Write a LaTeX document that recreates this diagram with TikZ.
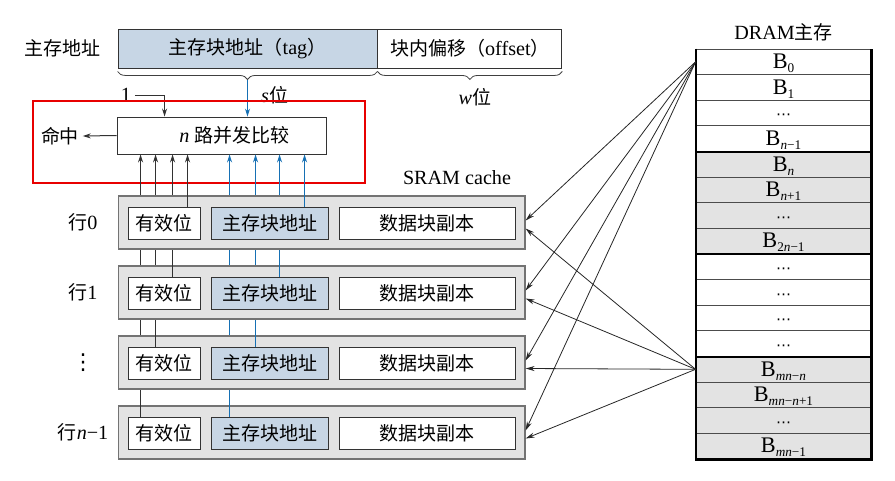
\documentclass[tikz,border=0pt]{standalone}
\usepackage{fontspec}
\setmainfont{Liberation Serif}[Scale=1.06]
\newfontfamily\cjk{Noto Sans CJK SC}
\newfontfamily\symf{DejaVu Sans}
\usetikzlibrary{arrows.meta,decorations.pathreplacing}
\definecolor{tagblue}{RGB}{199,214,229}
\definecolor{cellgray}{RGB}{227,227,227}
\definecolor{wireblue}{RGB}{22,112,180}
\definecolor{wiredark}{RGB}{50,50,50}
\definecolor{framered}{RGB}{232,0,0}
\newcommand{\blk}[1]{{\fontsize{21}{21}\selectfont B\raisebox{-4pt}{\fontsize{12.5}{12.5}\selectfont #1}}}
\newcommand{\vn}{\textit{n}}
\newcommand{\hdots}{{\symf\fontsize{15}{15}\selectfont ⋯}}
\tikzset{
  box/.style={draw=black!80,line width=0.9pt,inner sep=0pt},
  rowbox/.style={draw=black!55,fill=cellgray,line width=1.2pt,minimum width=406.5pt,minimum height=53pt,inner sep=0pt},
  cell/.style={draw=black!70,line width=0.8pt,minimum width=175pt,minimum height=25.625pt,inner sep=0pt,text height=15pt,text depth=1.4pt},
  wire/.style={draw=wiredark,line width=1pt},
  bluewire/.style={draw=wireblue,line width=1pt},
  brace/.style={decorate,decoration={brace,mirror,amplitude=8pt},draw=black!75,line width=0.8pt},
  maparrow/.style={draw=black!85,line width=0.8pt,-{Stealth[length=9pt,width=5pt]}}
}
\begin{document}
\begin{tikzpicture}[x=1pt,y=-1pt,font=\fontsize{19}{22}\selectfont,>={Stealth[length=8pt,width=5pt]}]
\useasboundingbox (0,0) rectangle (895,480);

\node (addr) at (62,48) {\cjk 主存地址};
\node[box,fill=tagblue,minimum width=259pt,minimum height=39pt] (tagf) at (247.5,48.5) {{\cjk 主存块地址（}tag{\cjk ）}};
\node[box,minimum width=184pt,minimum height=39pt,anchor=west] (offs) at (tagf.east) {{\cjk 块内偏移（}offset{\cjk ）}};
\draw[brace] ([yshift=-3pt]tagf.south west) -- ([yshift=-3pt]tagf.south east);
\draw[brace] ([yshift=-3pt]offs.south west) -- ([yshift=-3pt]offs.south east);
\coordinate (stip) at ([yshift=-12pt]tagf.south);
\coordinate (wtip) at ([yshift=-12pt]offs.south);
\node[anchor=west] (sbits) at ([xshift=10pt,yshift=-15pt]stip) {\textit{s}{\cjk 位}};
\node (wbits) at ([xshift=5pt,yshift=-17pt]wtip) {\textit{w}{\cjk 位}};

\node[box,minimum width=209pt,minimum height=37pt] (cmp) at (221.5,135.5) {\hspace{26pt}\vn\ {\cjk 路并发比较}};
\node (hit) at (60,136) {\cjk 命中};
\draw[wire,->] (cmp.west) -- (hit.east);
\node (one) at (126,95) {1};
\draw[wire,->] (one.east) -| ([xshift=48pt]cmp.north west);
\draw[bluewire,->] (stip) -- (stip |- cmp.north);
\draw[framered,line width=1.6pt] (33,101) rectangle (365,183);
\node (sram) at (457,178) {SRAM cache};

\foreach \i/\dv/\dt/\lab in {3/12.5/19/{{\cjk 行}\vn−1},2/27.5/45/{{\symf\fontsize{22}{22}\selectfont ⋮}},1/44.5/69/{{\cjk 行}1},0/59.5/94/{{\cjk 行}0}} {
  \node[rowbox] (r\i) at (321.75,222.5+70*\i) {};
  \node[box,fill=white,minimum width=71.5pt,minimum height=32pt] (v\i) at (164.25,223+70*\i) {\cjk 有效位};
  \node[box,fill=tagblue,minimum width=117pt,minimum height=32pt] (t\i) at (269.5,223+70*\i) {\cjk 主存块地址};
  \node[box,fill=white,minimum width=176pt,minimum height=32pt] (d\i) at (427,223+70*\i) {\cjk 数据块副本};
  \node (l\i) at (83,222.5+70*\i) {\lab};
  \coordinate (vp\i) at ([xshift=\dv pt]v\i.north west);
  \coordinate (tp\i) at ([xshift=\dt pt]t\i.north west);
  \draw[wire,->] (vp\i) -- (cmp.south -| vp\i);
  \draw[bluewire,->] (tp\i) -- (cmp.south -| tp\i);
}

\node (dram) at (783.5,32) {DRAM{\cjk 主存}};
\foreach \j/\lab in {0/\blk{0},1/\blk{1},2/\hdots,3/\blk{\vn−1},4/\blk{\vn},5/\blk{\vn+1},6/\hdots,7/\blk{2\vn−1},8/\hdots,9/\hdots,10/\hdots,11/\hdots,12/\blk{\textit{mn}−\vn},13/\blk{\textit{mn}−\vn+1},14/\hdots,15/\blk{\textit{mn}−1}} {
  \pgfmathtruncatemacro\g{\j/4}
  \ifodd\g \def\cf{cellgray}\else\def\cf{white}\fi
  \node[cell,fill=\cf] (b\j) at (783.5,61.8125+25.625*\j) {\lab};
}
\foreach \j in {3,7,11} \draw[line width=2pt] (b\j.south west) -- (b\j.south east);
\draw[line width=2.2pt] (b0.north west) -- (b15.south west) -- (b15.south east) -- (b0.north east);

\foreach \i in {0,...,3} {
  \draw[maparrow] (b0.west) -- ([yshift=2pt]r\i.east);
  \draw[maparrow] (b12.west) -- ([yshift=-6pt]r\i.east);
}
\end{tikzpicture}
\end{document}
